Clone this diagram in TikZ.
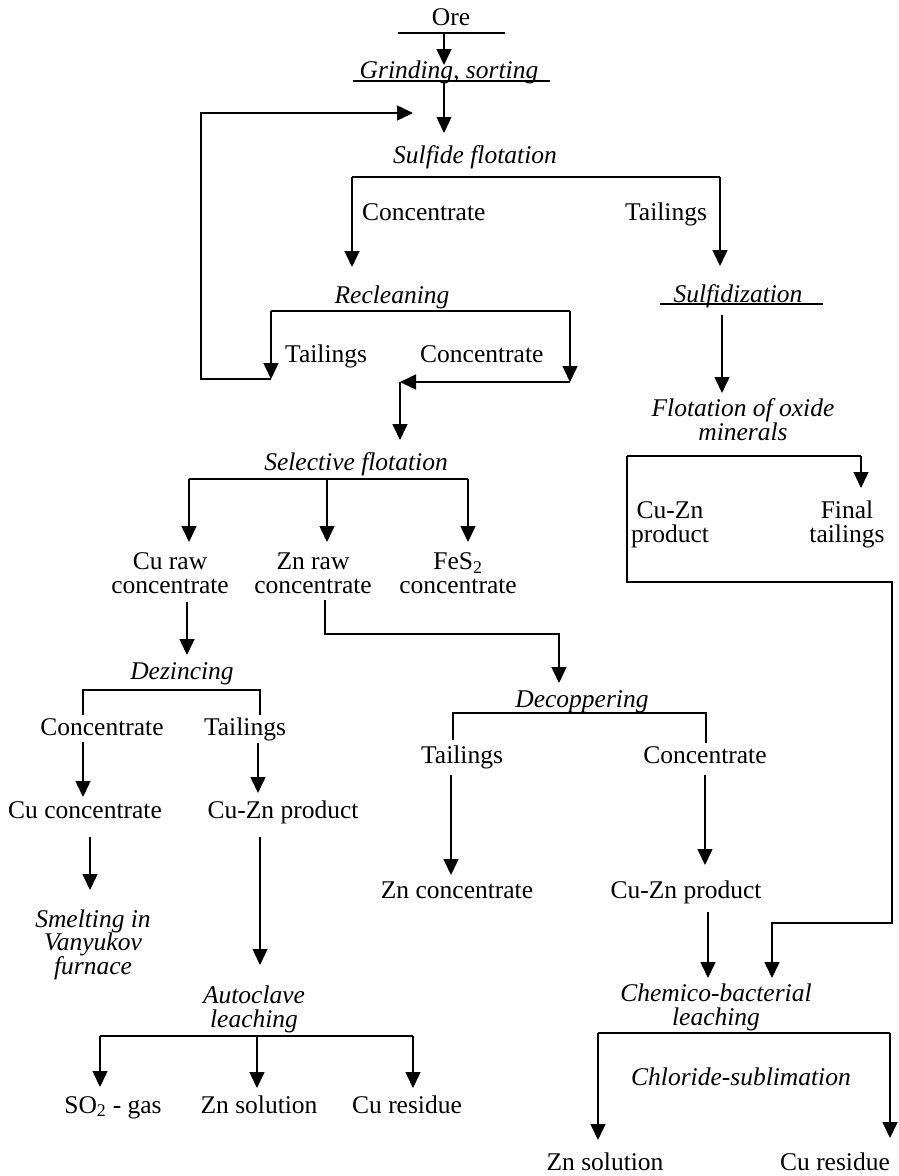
\documentclass[tikz,border=0pt]{standalone}
\usepackage{fontspec}
\setmainfont{Liberation Serif}
\usetikzlibrary{arrows.meta}
\begin{document}
\begin{tikzpicture}[x=1pt,y=-1pt,
  txt/.style={font=\fontsize{25.5}{23.5}\selectfont, inner sep=0pt, align=center, anchor=base},
  proc/.style={txt, font=\fontsize{25.5}{23.5}\selectfont\itshape},
  ln/.style={line width=1.5pt},
  arr/.style={ln, -{Triangle[width=15pt,length=16pt]}}]
\useasboundingbox (0,0) rectangle (898,1176);

% ---------- labels (multi-line labels are placed by their last baseline) ----------
\node[txt]  (ore)     at (451,25)  {Ore};
\node[proc] (grind)   at (449,78)  {Grinding, sorting};
\node[proc] (sulf)    at (475,163) {Sulfide flotation};
\node[txt,anchor=base west] (sconc) at (362,220) {Concentrate};
\node[txt]  (stail)   at (666,220) {Tailings};
\node[proc] (reclean) at (392,303) {Recleaning};
\node[txt,anchor=base west] (rtail) at (285,362) {Tailings};
\node[txt,anchor=base west] (rconc) at (420,362) {Concentrate};
\node[proc] (select)  at (356,470) {Selective flotation};
\node[txt]  (curaw)   at (170,593) {Cu raw\\concentrate};
\node[txt]  (znraw)   at (313,593) {Zn raw\\concentrate};
\node[txt]  (fes)     at (458,593) {FeS\textsubscript{2}\\concentrate};
\node[proc] (dezinc)  at (182,679) {Dezincing};
\node[txt]  (dconc)   at (102,735) {Concentrate};
\node[txt]  (dtail)   at (245,735) {Tailings};
\node[txt]  (cuconc)  at (85,818)  {Cu concentrate};
\node[txt]  (cuzn1)   at (283,818) {Cu-Zn product};
\node[proc] (smelt)   at (93,974)  {Smelting in\\Vanyukov\\furnace};
\node[proc] (autocl)  at (254,1027) {Autoclave\\ leaching};
\node[txt]  (so2)     at (113,1113) {SO\textsubscript{2} - gas};
\node[txt]  (znsol1)  at (259,1113) {Zn solution};
\node[txt]  (cures1)  at (407,1113) {Cu residue};
\node[proc] (decop)   at (582,707) {Decoppering};
\node[txt]  (ctail)   at (462,763) {Tailings};
\node[txt]  (cconc)   at (705,763) {Concentrate};
\node[txt]  (znconc)  at (457,898) {Zn concentrate};
\node[txt]  (cuzn2)   at (686,898) {Cu-Zn product};
\node[proc] (chem)    at (716,1025) {Chemico-bacterial\\ leaching};
\node[proc] (chlor)   at (741,1085) {Chloride-sublimation};
\node[txt]  (znsol2)  at (605,1170) {Zn solution};
\node[txt]  (cures2)  at (835,1170) {Cu residue};
\node[proc] (sulfid)  at (738,302) {Sulfidization};
\node[proc] (oxide)   at (743,440) {Flotation of oxide\\minerals};
\node[txt]  (cuzn3)   at (670,542) {Cu-Zn\\product};
\node[txt]  (final)   at (847,542) {Final\\tailings};

% ---------- junction points ----------
\coordinate (oreL) at (398,33);  \coordinate (oreR) at (505,33);
\coordinate (oreM) at (444,33);  \coordinate (grT) at (444,65);
\coordinate (grL) at (353,81);   \coordinate (grR) at (550,81);
\coordinate (grM) at (444,81);   \coordinate (sfT) at (444,133);
\coordinate (fbA) at (271,379);  \coordinate (fbB) at (201,379);
\coordinate (fbC) at (201,113);  \coordinate (fbD) at (413,113);
\coordinate (sfL) at (352,177);  \coordinate (sfR) at (720,177);
\coordinate (sfLt) at (352,267); \coordinate (sfRt) at (720,266);
\coordinate (rcL) at (271,311);  \coordinate (rcR) at (570,311);
\coordinate (rcLt) at (271,379); \coordinate (rcRt) at (570,382);
\coordinate (rcJ) at (400,382);  \coordinate (selT) at (400,440);
\coordinate (sbL) at (189,479);  \coordinate (sbM) at (327,479);
\coordinate (sbR) at (468,479);
\coordinate (sbLt) at (189,542); \coordinate (sbMt) at (327,542);
\coordinate (sbRt) at (468,542);
\coordinate (cuA) at (187,602);  \coordinate (cuB) at (187,655);
\coordinate (znA) at (325,600);  \coordinate (znB) at (325,634);
\coordinate (znC) at (559,634);  \coordinate (znD) at (559,683);
\coordinate (dzLb) at (83,715);  \coordinate (dzL) at (83,690);
\coordinate (dzR) at (260,690);  \coordinate (dzRb) at (260,715);
\coordinate (dcA) at (83,742);   \coordinate (dcB) at (83,797);
\coordinate (dtA) at (258,743);  \coordinate (dtB) at (258,793);
\coordinate (smA) at (90,837);   \coordinate (smB) at (90,890);
\coordinate (acA) at (260,837);  \coordinate (acB) at (260,965);
\coordinate (abL) at (100,1036); \coordinate (abM) at (257,1036);
\coordinate (abR) at (413,1036);
\coordinate (abLt) at (100,1087); \coordinate (abMt) at (257,1088);
\coordinate (abRt) at (413,1088);
\coordinate (dpLb) at (453,740); \coordinate (dpL) at (453,713);
\coordinate (dpR) at (706,713);  \coordinate (dpRb) at (706,743);
\coordinate (ctA) at (451,775);  \coordinate (ctB) at (451,875);
\coordinate (ccA) at (705,775);  \coordinate (ccB) at (705,865);
\coordinate (cbA) at (708,912);  \coordinate (cbB) at (708,978);
\coordinate (chL) at (598,1033); \coordinate (chR) at (890,1033);
\coordinate (chLt) at (598,1140); \coordinate (chRt) at (890,1138);
\coordinate (suL) at (660,304);  \coordinate (suR) at (823,304);
\coordinate (suA) at (722,315);  \coordinate (suB) at (722,393);
\coordinate (oxL) at (627,456);  \coordinate (oxR) at (861,456);
\coordinate (oxRt) at (861,488);
\coordinate (oxLb) at (627,582); \coordinate (oxC) at (892,582);
\coordinate (oxD) at (892,923);  \coordinate (oxE) at (772,923);
\coordinate (oxF) at (772,978);

% ---------- connectors ----------
\draw[ln] (oreL) -- (oreR);
\draw[arr] (oreM) -- (grT);
\draw[ln] (grL) -- (grR);
\draw[arr] (grM) -- (sfT);
\draw[arr] (fbA) -- (fbB) -- (fbC) -- (fbD);

\draw[ln] (sfL) -- (sfR);
\draw[arr] (sfL) -- (sfLt);
\draw[arr] (sfR) -- (sfRt);

\draw[ln] (rcL) -- (rcR);
\draw[arr] (rcL) -- (rcLt);
\draw[arr] (rcR) -- (rcRt);
\draw[arr] (rcRt) -- (rcJ);
\draw[arr] (rcJ) -- (selT);

\draw[ln] (sbL) -- (sbR);
\draw[arr] (sbL) -- (sbLt);
\draw[arr] (sbM) -- (sbMt);
\draw[arr] (sbR) -- (sbRt);

\draw[arr] (cuA) -- (cuB);
\draw[arr] (znA) -- (znB) -- (znC) -- (znD);

\draw[ln] (dzLb) -- (dzL) -- (dzR) -- (dzRb);
\draw[arr] (dcA) -- (dcB);
\draw[arr] (dtA) -- (dtB);
\draw[arr] (smA) -- (smB);
\draw[arr] (acA) -- (acB);

\draw[ln] (abL) -- (abR);
\draw[arr] (abL) -- (abLt);
\draw[arr] (abM) -- (abMt);
\draw[arr] (abR) -- (abRt);

\draw[ln] (dpLb) -- (dpL) -- (dpR) -- (dpRb);
\draw[arr] (ctA) -- (ctB);
\draw[arr] (ccA) -- (ccB);
\draw[arr] (cbA) -- (cbB);

\draw[ln] (chL) -- (chR);
\draw[arr] (chL) -- (chLt);
\draw[arr] (chR) -- (chRt);

\draw[ln] (suL) -- (suR);
\draw[arr] (suA) -- (suB);
\draw[ln] (oxL) -- (oxR);
\draw[arr] (oxR) -- (oxRt);
\draw[arr] (oxL) -- (oxLb) -- (oxC) -- (oxD) -- (oxE) -- (oxF);
\end{tikzpicture}
\end{document}
